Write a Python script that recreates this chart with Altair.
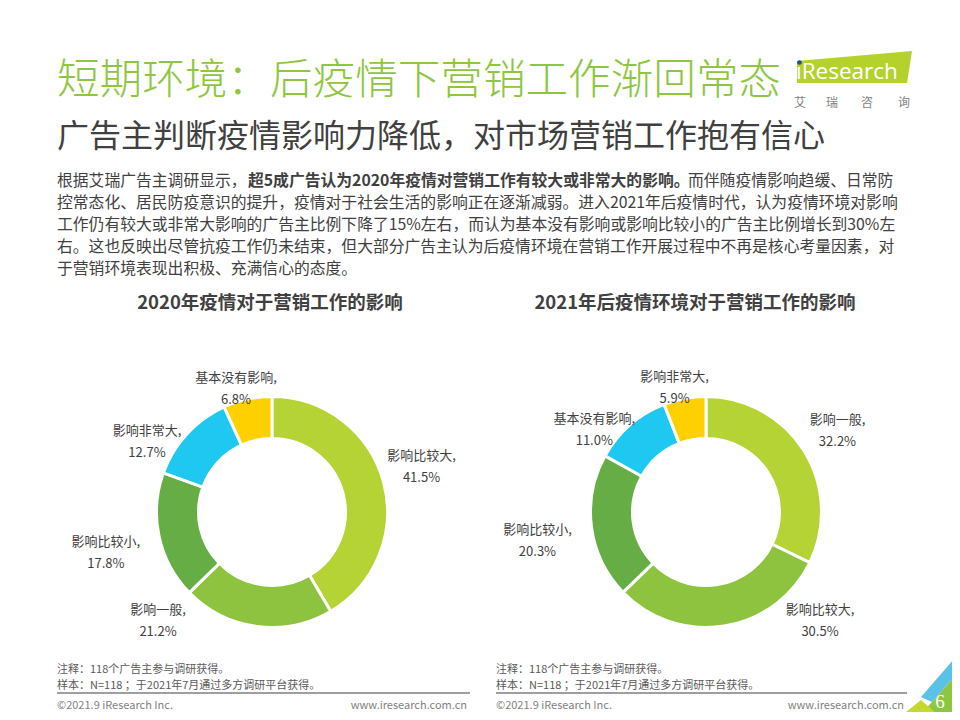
import altair as alt
import pandas as pd

FONT = "Noto Sans CJK SC"

# ---------------- data ----------------
cats_2020 = ["影响比较大", "影响一般", "影响比较小", "影响非常大", "基本没有影响"]
vals_2020 = [41.5, 21.2, 17.8, 12.7, 6.8]
cats_2021 = ["影响一般", "影响比较大", "影响比较小", "基本没有影响", "影响非常大"]
vals_2021 = [32.2, 30.5, 20.3, 11.0, 5.9]
slice_colors = ["#B5D334", "#8DC33F", "#66AD45", "#1FC8F1", "#FFD000"]

chart_titles = ["2020年疫情对于营销工作的影响", "2021年后疫情环境对于营销工作的影响"]
main_title = "短期环境：后疫情下营销工作渐回常态"
sub_title = "广告主判断疫情影响力降低，对市场营销工作抱有信心"
para_l1 = ["根据艾瑞广告主调研显示，", "超5成广告认为2020年疫情对营销工作有较大或非常大的影响。", "而伴随疫情影响趋缓、日常防"]
para_rest = [
    "控常态化、居民防疫意识的提升，疫情对于社会生活的影响正在逐渐减弱。进入2021年后疫情时代，认为疫情环境对影响",
    "工作仍有较大或非常大影响的广告主比例下降了15%左右，而认为基本没有影响或影响比较小的广告主比例增长到30%左",
    "右。这也反映出尽管抗疫工作仍未结束，但大部分广告主认为后疫情环境在营销工作开展过程中不再是核心考量因素，对",
    "于营销环境表现出积极、充满信心的态度。",
]
notes = ["注释：118个广告主参与调研获得。", "样本：N=118 ；于2021年7月通过多方调研平台获得。"]
footer_left = "©2021.9 iResearch Inc."
footer_right = "www.iresearch.com.cn"
logo_chars = ["艾", "瑞", "咨", "询"]

rows = []
for i, (c, v) in enumerate(zip(cats_2020, vals_2020)):
    rows.append({"chart": 1, "idx": i, "cat": c, "val": v})
for i, (c, v) in enumerate(zip(cats_2021, vals_2021)):
    rows.append({"chart": 2, "idx": i, "cat": c, "val": v})
df = pd.DataFrame(rows)

one = alt.Data(values=[{"k": 0}])
O = 8  # page margin


def T(s, x, y, size, color="#404040", weight="normal", align="left", font=FONT):
    """text whose glyph centre sits at page (x, y)"""
    return alt.Chart(one).mark_text(
        text=s, fontSize=size, fontWeight=weight, color=color, align=align,
        baseline="middle", font=font
    ).encode(x=alt.value(x - O), y=alt.value(y - O + 0.08 * size))


def TB(s, x, base, size, color, font, align="left"):
    """text on an alphabetic baseline"""
    return alt.Chart(one).mark_text(
        text=s, fontSize=size, color=color, align=align, baseline="alphabetic", font=font
    ).encode(x=alt.value(x - O), y=alt.value(base - O))


def SHAPE(path, color):
    return alt.Chart(one).mark_point(
        shape=path, size=4, filled=True, color=color, opacity=1, strokeWidth=0
    ).encode(x=alt.value(0), y=alt.value(0))


def poly(pts):
    return "M" + "L".join(f"{x - O},{y - O}" for x, y in pts) + "Z"


CX = {1: 272, 2: 706}
CY = 512
R_OUT, R_IN = 115.5, 73.5


def donut(k):
    return alt.Chart(df).transform_filter(alt.datum.chart == k).mark_arc(
        innerRadius=R_IN, outerRadius=R_OUT, stroke="white", strokeWidth=3
    ).encode(
        theta=alt.Theta("val:Q", stack=True),
        color=alt.Color("idx:N", scale=alt.Scale(domain=[0, 1, 2, 3, 4], range=slice_colors), legend=None),
        order=alt.Order("idx:Q"),
        x=alt.value(CX[k] - O),
        y=alt.value(CY - O),
    )


labels = alt.Chart(df).transform_window(
    cum="sum(val)", groupby=["chart"], sort=[alt.SortField("idx")], frame=[None, 0]
).transform_joinaggregate(
    total="sum(val)", groupby=["chart"]
).transform_calculate(
    a="2*PI*(datum.cum - datum.val/2)/datum.total"
).transform_calculate(
    cx=f"datum.chart == 1 ? {CX[1] - O} : {CX[2] - O}"
).transform_calculate(
    dx0="(sin(datum.a) < 0 ? 170 : 155)*sin(datum.a)"
).transform_calculate(
    dy0="-141*cos(datum.a) - (abs(cos(datum.a)) > 0.25 ? 20*sin(datum.a) : 0)"
).transform_calculate(
    lx="datum.cx + (datum.dy0 > 98 ? (datum.dx0 < 0 ? -114 : 114) : datum.dx0)"
).transform_calculate(
    ly=f"{CY - O} + min(datum.dy0, 98)"
).transform_calculate(
    label="datum.cat + ',\\n' + format(datum.val, '.1f') + '%'"
).mark_text(
    lineBreak="\n", align="center", baseline="middle", fontSize=13, lineHeight=22,
    color="#404040", font=FONT
).encode(
    x=alt.X("lx:Q", scale=None, axis=None),
    y=alt.Y("ly:Q", scale=None, axis=None),
    text="label:N",
)

layers = []
# logo
layers.append(SHAPE(poly([(797, 61), (912, 51), (907, 83), (797, 83)]), "#B5D22C"))
layers.append(TB("ıResearch", 796, 79, 22.5, "white", "Open Sans"))
layers.append(alt.Chart(one).mark_point(shape="circle", size=22, filled=True, color="#1F4E9B", opacity=1).encode(
    x=alt.value(799.5 - O), y=alt.value(62.5 - O)))
for ch, xx in zip(logo_chars, [800, 832, 867, 904]):
    layers.append(T(ch, xx, 102, 12, color="#7F7F7F", align="center"))

# titles
layers.append(T(main_title, 57, 78, 42.6, color="#8DC63F", weight=300))
layers.append(T(sub_title, 57, 134, 32, color="#404040"))

# paragraph
PS = 15.8
layers.append(T(para_l1[0], 57, 180, PS))
layers.append(T(para_l1[1], 248, 180, PS, weight="bold"))
layers.append(T(para_l1[2], 688, 180, PS))
for j, line in enumerate(para_rest):
    layers.append(T(line, 57, 202 + 22 * j, PS))

# chart titles
layers.append(T(chart_titles[0], 270, 302, 18.5, weight="bold", align="center"))
layers.append(T(chart_titles[1], 695, 302, 18.5, weight="bold", align="center"))

# donuts + labels
layers.append(donut(1))
layers.append(donut(2))
layers.append(labels)

# footnotes & footer
for x0, x1 in [(57, 470), (496, 907)]:
    layers.append(T(notes[0], x0, 669, 11, color="#595959"))
    layers.append(T(notes[1], x0, 685, 11, color="#595959"))
    layers.append(alt.Chart(one).mark_rule(color="#7F7F7F", strokeWidth=1.5).encode(
        x=alt.value(x0 - O), x2=alt.value(x1 - O), y=alt.value(693 - O)))
    layers.append(T(footer_left, x0, 705, 11, color="#7F7F7F"))
    layers.append(T(footer_right, x1 - 3, 705, 11, color="#7F7F7F", align="right"))

# corner decoration
layers.append(SHAPE(poly([(921, 697), (960, 652), (960, 670), (932, 702)]), "#5BC2E7"))
layers.append(SHAPE(poly([(932, 702), (960, 670), (960, 720), (916, 720)]), "#8DC63F"))
layers.append(SHAPE(poly([(896, 720), (921, 700), (944, 720)]), "#C4D82E"))
layers.append(T("6", 940, 700, 19, color="white", align="center", font="Liberation Serif"))

chart = alt.layer(*layers).resolve_scale(theta="independent").properties(
    width=944, height=704, padding=0, autosize=alt.AutoSizeParams(type="none"), background="white"
).configure_view(stroke=None)

chart.save("out.html", embed_options={"renderer": "svg", "actions": False})
